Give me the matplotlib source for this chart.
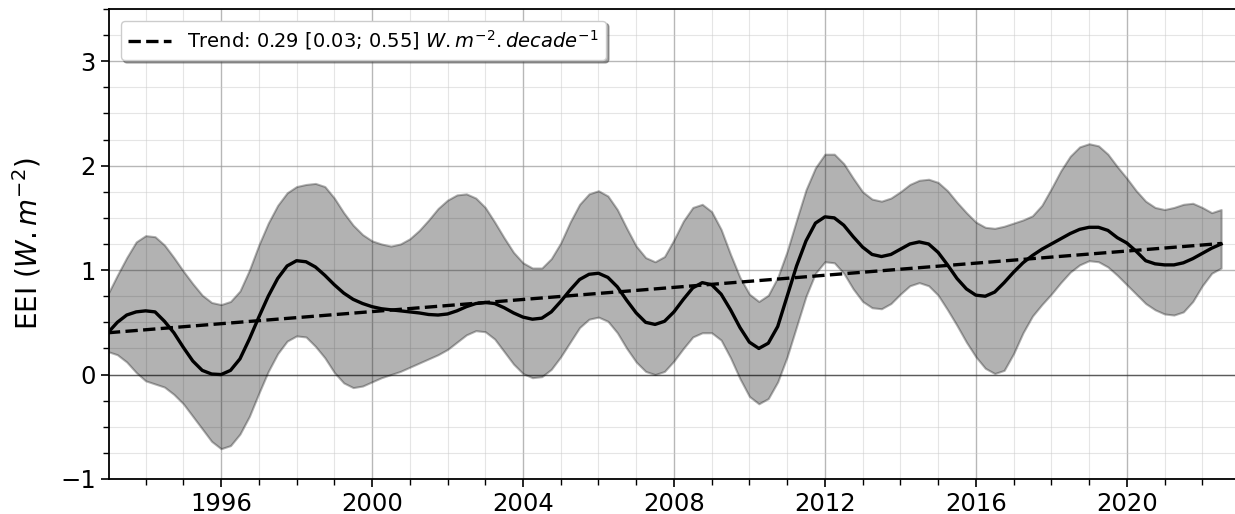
import matplotlib
matplotlib.use("Agg")
import matplotlib.pyplot as plt
from matplotlib.ticker import MultipleLocator
import numpy as np

years = np.arange(1993.0, 2022.5001, 0.25)

eei = [0.40, 0.50, 0.57, 0.60, 0.61, 0.60, 0.51, 0.40, 0.26, 0.13, 0.04, 0.005,
       0.00, 0.04, 0.15, 0.34, 0.55, 0.75, 0.92, 1.04, 1.09, 1.08, 1.03, 0.95,
       0.86, 0.78, 0.72, 0.68, 0.65, 0.63, 0.62, 0.61, 0.60, 0.59, 0.575, 0.57,
       0.58, 0.61, 0.65, 0.68, 0.69, 0.68, 0.64, 0.59, 0.55, 0.53, 0.54, 0.60,
       0.70, 0.81, 0.91, 0.96, 0.97, 0.93, 0.84, 0.71, 0.59, 0.50, 0.48, 0.51,
       0.60, 0.72, 0.83, 0.88, 0.86, 0.77, 0.62, 0.45, 0.31, 0.25, 0.30, 0.46,
       0.75, 1.04, 1.28, 1.45, 1.51, 1.50, 1.43, 1.32, 1.22, 1.15, 1.13, 1.15,
       1.20, 1.25, 1.27, 1.25, 1.17, 1.05, 0.92, 0.82, 0.76, 0.75, 0.79, 0.88,
       0.98, 1.07, 1.14, 1.20, 1.25, 1.30, 1.35, 1.39, 1.41, 1.41, 1.38, 1.31,
       1.26, 1.18, 1.09, 1.06, 1.05, 1.05, 1.07, 1.11, 1.16, 1.21, 1.25]

upper = [0.77, 0.95, 1.12, 1.27, 1.33, 1.32, 1.24, 1.12, 0.99, 0.87, 0.76, 0.69,
         0.67, 0.70, 0.80, 1.00, 1.24, 1.45, 1.62, 1.74, 1.80, 1.82, 1.83, 1.80,
         1.69, 1.55, 1.43, 1.34, 1.28, 1.25, 1.23, 1.25, 1.30, 1.38, 1.48, 1.59,
         1.67, 1.72, 1.73, 1.69, 1.60, 1.46, 1.31, 1.17, 1.07, 1.02, 1.02, 1.11,
         1.26, 1.46, 1.63, 1.73, 1.76, 1.71, 1.58, 1.40, 1.23, 1.12, 1.08, 1.13,
         1.29, 1.47, 1.60, 1.63, 1.56, 1.39, 1.15, 0.93, 0.77, 0.70, 0.76, 0.93,
         1.18, 1.48, 1.77, 1.98, 2.11, 2.11, 2.02, 1.88, 1.75, 1.68, 1.66, 1.69,
         1.75, 1.82, 1.86, 1.87, 1.84, 1.76, 1.65, 1.55, 1.46, 1.41, 1.40, 1.42,
         1.45, 1.48, 1.52, 1.62, 1.78, 1.95, 2.09, 2.18, 2.21, 2.19, 2.11, 1.99,
         1.88, 1.76, 1.66, 1.60, 1.58, 1.60, 1.63, 1.64, 1.60, 1.55, 1.58]

lower = [0.22, 0.19, 0.12, 0.02, -0.06, -0.09, -0.12, -0.19, -0.28, -0.40, -0.52, -0.64,
         -0.71, -0.68, -0.57, -0.40, -0.18, 0.03, 0.20, 0.32, 0.37, 0.36, 0.27, 0.16,
         0.02, -0.08, -0.125, -0.11, -0.07, -0.03, 0.00, 0.03, 0.07, 0.11, 0.15, 0.19,
         0.24, 0.31, 0.38, 0.42, 0.41, 0.34, 0.22, 0.10, 0.01, -0.03, -0.02, 0.05,
         0.17, 0.31, 0.45, 0.53, 0.55, 0.51, 0.40, 0.25, 0.12, 0.03, 0.00, 0.03,
         0.13, 0.25, 0.36, 0.40, 0.40, 0.33, 0.16, -0.04, -0.21, -0.28, -0.23, -0.07,
         0.17, 0.46, 0.75, 0.97, 1.08, 1.07, 0.97, 0.82, 0.70, 0.64, 0.63, 0.68,
         0.77, 0.85, 0.88, 0.85, 0.76, 0.62, 0.47, 0.31, 0.17, 0.06, 0.01, 0.04,
         0.20, 0.40, 0.56, 0.67, 0.77, 0.88, 0.98, 1.05, 1.09, 1.08, 1.03, 0.95,
         0.86, 0.77, 0.68, 0.62, 0.58, 0.57, 0.60, 0.70, 0.85, 0.97, 1.02]

trend_years = [1993.0, 2022.5]
trend_values = [0.40, 1.255]
trend_label = r"Trend: 0.29 [0.03; 0.55] $W.m^{-2}.decade^{-1}$"

fig = plt.figure(figsize=(12.35, 5.14), dpi=100)
ax = fig.add_axes([109 / 1235, 35 / 514, 1131 / 1235, 470 / 514])

ax.fill_between(years, lower, upper, color="k", alpha=0.3, lw=1.5, zorder=2)
ax.plot(years, eei, color="k", lw=2.4, zorder=4, solid_joinstyle="round")
ax.plot(trend_years, trend_values, color="k", ls="--", lw=2.4, zorder=5, label=trend_label)
ax.axhline(0, color="k", lw=1.0, alpha=0.5, zorder=1)

ax.set_xlim(1993.03, 2023.0)
ax.set_ylim(-1, 3.5)
ax.xaxis.set_major_locator(MultipleLocator(4))
ax.xaxis.set_minor_locator(MultipleLocator(1))
ax.yaxis.set_major_locator(MultipleLocator(1))
ax.yaxis.set_minor_locator(MultipleLocator(0.25))
ax.grid(which="major", color="0.6", lw=1.0, alpha=0.7, zorder=0)
ax.grid(which="minor", color="0.8", lw=0.8, alpha=0.5, zorder=0)
ax.set_axisbelow(True)
ax.tick_params(which="major", labelsize=17.5, length=6, width=1.2)
ax.tick_params(which="minor", length=4, width=1)
ax.set_ylabel(r"EEI ($W.m^{-2}$)", fontsize=20, labelpad=12)
for s in ax.spines.values():
    s.set_linewidth(1.3)

ax.legend(loc="upper left", fontsize=14, shadow=True, fancybox=True, framealpha=1,
          handlelength=2.2, borderaxespad=0.6)

fig.savefig("out.png", dpi=100)
